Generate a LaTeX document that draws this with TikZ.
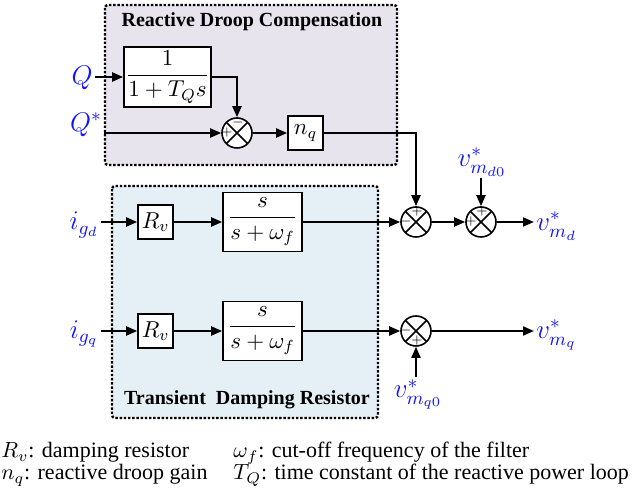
\RequirePackage{fix-cm}
\documentclass[tikz,border=0pt]{standalone}
\usepackage{amsmath,amssymb}
\usepackage{fontspec}
\setmainfont{Liberation Serif}
\usepackage{xcolor}
\usepackage{tikz}
\usetikzlibrary{positioning,arrows.meta,calc}

\definecolor{sigblue}{RGB}{20,20,250}
\definecolor{droopbg}{RGB}{232,228,238}
\definecolor{dampbg}{RGB}{228,240,245}

\begin{document}
\begin{tikzpicture}[x=0.5pt, y=-0.5pt,
  wire/.style={line width=1pt},
  sig/.style={wire, -{Triangle[length=5.5pt,width=4.5pt]}},
  blk/.style={draw, line width=0.8pt, fill=white, inner sep=1pt, font=\fontsize{11.5}{13}\selectfont},
  sumj/.style={circle, draw, line width=0.8pt, fill=white, minimum size=15pt, inner sep=0pt,
    path picture={\draw[line width=0.8pt] (path picture bounding box.north west) -- (path picture bounding box.south east)
      (path picture bounding box.north east) -- (path picture bounding box.south west);}},
  sgn/.style={font=\fontsize{6}{6}\selectfont, inner sep=0pt},
  lab/.style={text=sigblue, font=\fontsize{13.5}{15}\selectfont, inner sep=1pt},
  grp/.style={line width=1.2pt, dash pattern=on 1.2pt off 0.9pt, rounded corners=1.5pt},
  ttl/.style={font=\fontsize{10}{12}\selectfont\bfseries},
  leg/.style={font=\fontsize{11}{13}\selectfont, anchor=base west, inner sep=0pt}]
  \useasboundingbox (0,0) rectangle (633,501);

  % Group frames
  \draw[grp, fill=droopbg] (105,5) rectangle (397,165);
  \draw[grp, fill=dampbg] (112,186) rectangle (378,418);
  \node[ttl] (ttlq) at (252,22) {Reactive Droop Compensation};
  \node[ttl] (ttld) at (247,400) {Transient\ \ Damping Resistor};

  % Reactive droop path
  \node[lab] (q) at (82,78) {$Q$};
  \node[lab] (qs) at (86,125) {$Q^*$};
  \node[blk, minimum width=42.5pt, minimum height=30pt] (lpf) at (167.5,77) {$\dfrac{1}{1+T_Q s}$};
  \node[sumj] (s1) at (237,133) {};
  \node[blk, minimum width=17.5pt, minimum height=17pt] (nq) at (305.5,133) {$n_q$};
  \draw[sig] (q.east |- lpf.west) -- (lpf);
  \draw[sig] (lpf) -| (s1);
  \draw[sig] (qs.east |- s1) -- (s1);
  \draw[sig] (s1) -- (nq);

  % Damping rows
  \foreach \r/\y in {d/222, q/331} {
    \node[lab] (ig\r) at (84,\y+3) {$i_{g_\r}$};
    \node[blk, minimum width=17.5pt, minimum height=17pt] (rv\r) at (155.5,\y) {$R_v$};
    \node[blk, minimum width=39.5pt, minimum height=29.5pt] (f\r) at (262.5,\y) {$\dfrac{s}{s+\omega_f}$};
    \draw[sig] (ig\r.east |- rv\r.west) -- (rv\r);
    \draw[sig] (rv\r) -- (f\r);
  }

  % Summing junctions
  \node[sumj] (sd1) at (416,222) {};
  \node[sumj] (sd2) at (481,222) {};
  \node[sumj] (sq) at (416,331) {};
  \foreach \s/\dx/\dy/\t in {s1/-10/0/+, s1/1/-10/-, sd1/1/-10/+, sd1/-10/0/-,
      sd2/1/-10/+, sd2/-10/0/+, sq/-10/0/-, sq/1/10/+} {
    \node[sgn] at ($(\s)+(\dx,\dy)$) {$\t$};
  }

  % References and outputs
  \node[lab] (vd0) at (482,162) {$v^*_{m_{d0}}$};
  \node[lab, anchor=north] (vq0) at (418,377) {$v^*_{m_{q0}}$};
  \node[lab, anchor=west] (vmd) at (534,226) {$v^*_{m_d}$};
  \node[lab, anchor=west] (vmq) at (534,335) {$v^*_{m_q}$};
  \draw[sig] (nq) -| (sd1);
  \draw[sig] (fd) -- (sd1);
  \draw[sig] (sd1) -- (sd2);
  \draw[sig] (vd0.south -| sd2.north) -- (sd2);
  \draw[sig] (sd2) -- (vmd.west |- sd2);
  \draw[sig] (fq) -- (sq);
  \draw[sig] (vq0.north -| sq.south) -- (sq);
  \draw[sig] (sq) -- (vmq.west |- sq);

  % Legend
  \node[leg] (lg1) at (1,458) {$R_v$: damping resistor};
  \node[leg] (lg2) at (1,480) {$n_q$: reactive droop gain};
  \node[leg] (lg3) at (233,458) {$\omega_f$: cut-off frequency of the filter};
  \node[leg] (lg4) at (233,480) {$T_Q$: time constant of the reactive power loop};

\end{tikzpicture}
\end{document}
